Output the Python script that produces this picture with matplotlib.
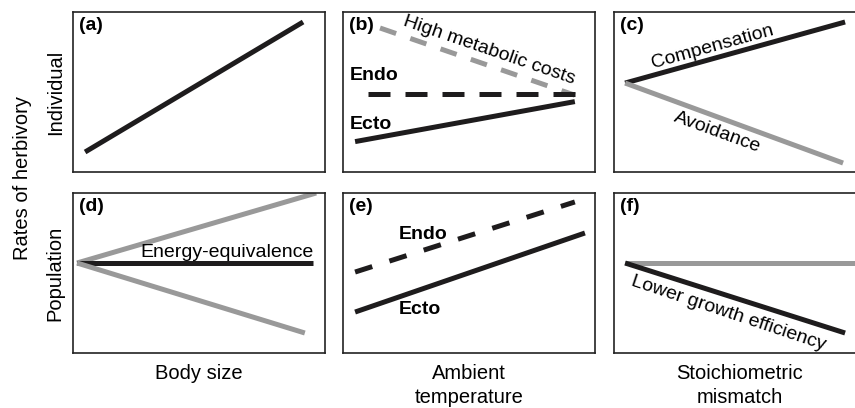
"""Conceptual panels: rates of herbivory vs body size, temperature, mismatch"""

import matplotlib
matplotlib.use('Agg')
import matplotlib.pyplot as plt

plt.rcParams['font.family'] = ['Liberation Sans', 'DejaVu Sans']

BLACK = '#1e1c1d'
GREY = '#999999'

# line end points, in axes units (0-1)
a_x = [0.048, 0.913]
a_y = [0.125, 0.9375]

b_cost_x = [0.147, 0.92]
b_cost_y = [0.90, 0.48]
b_endo_x = [0.10, 0.92]
b_endo_y = [0.49, 0.49]
b_ecto_x = [0.048, 0.92]
b_ecto_y = [0.19, 0.44]

c_comp_x = [0.044, 0.917]
c_comp_y = [0.556, 0.9375]
c_avoid_x = [0.044, 0.909]
c_avoid_y = [0.556, 0.056]

d_up_x = [0.016, 0.965]
d_up_y = [0.5625, 1.0]
d_eq_x = [0.016, 0.952]
d_eq_y = [0.5625, 0.5625]
d_down_x = [0.016, 0.92]
d_down_y = [0.5625, 0.125]

e_endo_x = [0.048, 0.92]
e_endo_y = [0.506, 0.944]
e_ecto_x = [0.048, 0.96]
e_ecto_y = [0.256, 0.75]

f_flat_x = [0.044, 1.0]
f_flat_y = [0.5625, 0.5625]
f_low_x = [0.044, 0.917]
f_low_y = [0.5625, 0.125]

panel_tags = ['(a)', '(b)', '(c)', '(d)', '(e)', '(f)']
row_labels = ['Individual', 'Population']
col_labels = ['Body size', 'Ambient\ntemperature', 'Stoichiometric\nmismatch']

W, H = 855, 408
fig = plt.figure(figsize=(W / 100, H / 100), dpi=100)

lefts = [73, 343, 614]
tops = [12, 193]
pw, ph = 252, 160

axes = []
for r, top in enumerate(tops):
    for c, left in enumerate(lefts):
        ax = fig.add_axes([left / W, (H - top - ph) / H, pw / W, ph / H])
        ax.set_xlim(0, 1)
        ax.set_ylim(0, 1)
        ax.set_xticks([])
        ax.set_yticks([])
        for s in ax.spines.values():
            s.set_linewidth(1.2)
            s.set_color('#222222')
        axes.append(ax)

lw = 3.6

# (a)
ax = axes[0]
ax.plot(a_x, a_y, color=BLACK, lw=lw, solid_capstyle='butt')

# (b)
ax = axes[1]
ax.plot(b_cost_x, b_cost_y, color=GREY, lw=lw, dashes=(3.4, 3.0))
ax.plot(b_endo_x, b_endo_y, color=BLACK, lw=lw, dashes=(4.4, 3.0))
ax.plot(b_ecto_x, b_ecto_y, color=BLACK, lw=lw, solid_capstyle='butt')
ax.text(0.028, 0.606, 'Endo', fontsize=14, fontweight='bold', va='center')
ax.text(0.028, 0.294, 'Ecto', fontsize=14, fontweight='bold', va='center')
ax.text(0.58, 0.76, 'High metabolic costs', fontsize=14, rotation=-19,
        ha='center', va='center', rotation_mode='anchor')

# (c)
ax = axes[2]
ax.plot(c_comp_x, c_comp_y, color=BLACK, lw=lw, solid_capstyle='butt')
ax.plot(c_avoid_x, c_avoid_y, color=GREY, lw=lw, solid_capstyle='butt')
ax.text(0.39, 0.78, 'Compensation', fontsize=14, rotation=15.5,
        ha='center', va='center', rotation_mode='anchor')
ax.text(0.41, 0.245, 'Avoidance', fontsize=14, rotation=-20,
        ha='center', va='center', rotation_mode='anchor')

# (d)
ax = axes[3]
ax.plot(d_up_x, d_up_y, color=GREY, lw=lw, solid_capstyle='butt')
ax.plot(d_eq_x, d_eq_y, color=BLACK, lw=lw, solid_capstyle='butt')
ax.plot(d_down_x, d_down_y, color=GREY, lw=lw, solid_capstyle='butt')
ax.text(0.61, 0.63, 'Energy-equivalence', fontsize=14, ha='center', va='center')

# (e)
ax = axes[4]
ax.plot(e_endo_x, e_endo_y, color=BLACK, lw=lw, dashes=(3.6, 3.6))
ax.plot(e_ecto_x, e_ecto_y, color=BLACK, lw=lw, solid_capstyle='butt')
ax.text(0.22, 0.74, 'Endo', fontsize=14, fontweight='bold', va='center')
ax.text(0.22, 0.27, 'Ecto', fontsize=14, fontweight='bold', va='center')

# (f)
ax = axes[5]
ax.plot(f_flat_x, f_flat_y, color=GREY, lw=lw, solid_capstyle='butt')
ax.plot(f_low_x, f_low_y, color=BLACK, lw=lw, solid_capstyle='butt')
ax.text(0.455, 0.245, 'Lower growth efficiency', fontsize=14, rotation=-18.5,
        ha='center', va='center', rotation_mode='anchor')

# tags
for ax, tag in zip(axes, panel_tags):
    ax.text(0.024, 0.97, tag, fontsize=14, fontweight='bold', va='top', ha='left')

# row / column labels
for ax, lab in zip([axes[0], axes[3]], row_labels):
    ax.set_ylabel(lab, fontsize=14.5, labelpad=6)
for ax, lab in zip(axes[3:], col_labels):
    ax.set_xlabel(lab, fontsize=14.5, labelpad=8, linespacing=1.35)

fig.text(22 / W, (H - 178) / H, 'Rates of herbivory', fontsize=14.5,
         rotation=90, ha='center', va='center')

fig.savefig('out.png', dpi=100)
